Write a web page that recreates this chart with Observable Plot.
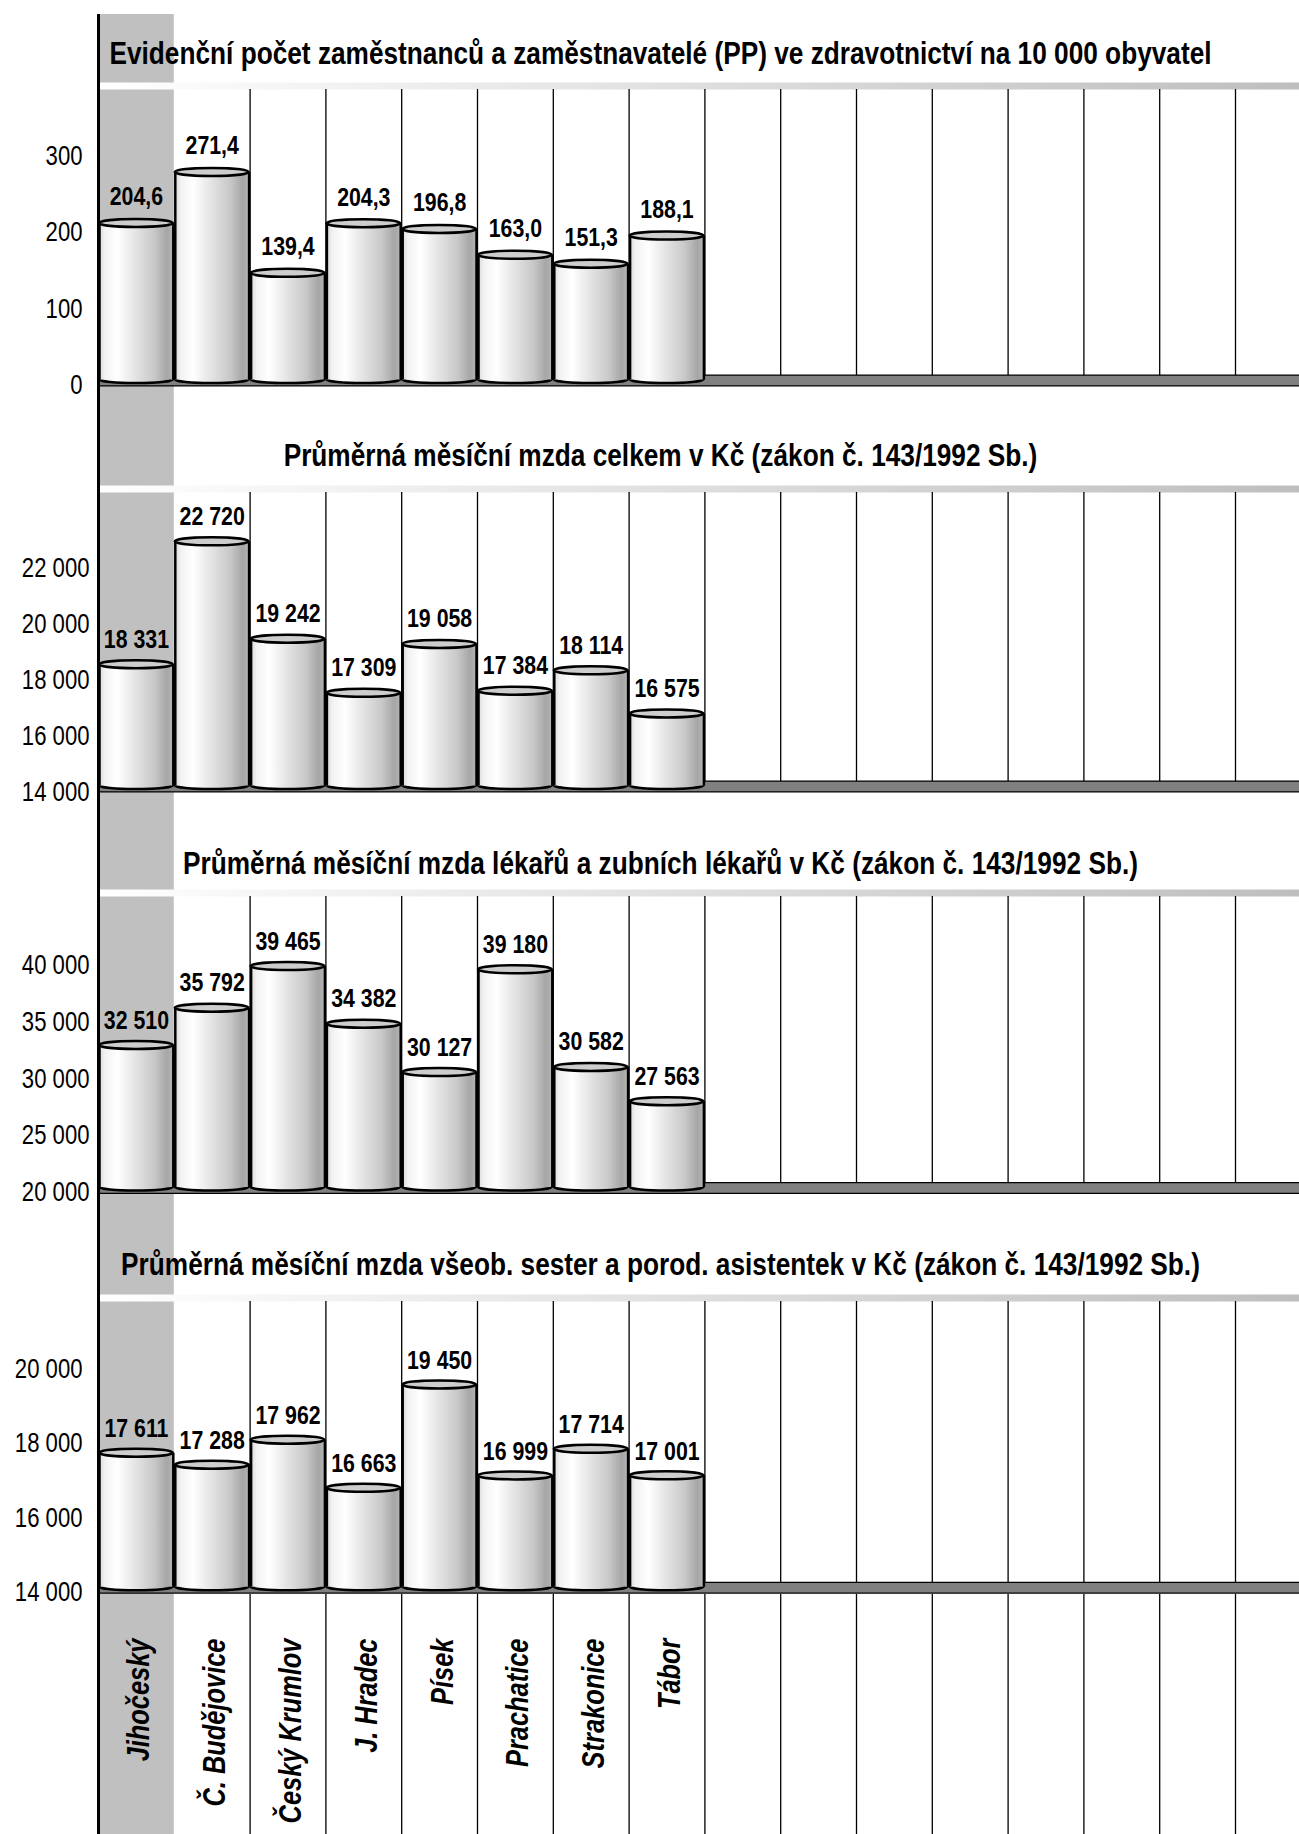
<!DOCTYPE html>
<html><head><meta charset="utf-8">
<script src="https://cdn.jsdelivr.net/npm/d3@7"></script>
<script src="https://cdn.jsdelivr.net/npm/@observablehq/plot@0.6"></script>
<style>
body{margin:0;background:#fff;}
#chart{width:1299px;}
#chart svg{display:block;}
</style>
</head><body>
<svg width="0" height="0" style="position:absolute"><defs>
<linearGradient id="barGrad" x1="0" x2="1" y1="0" y2="0">
<stop offset="0" stop-color="#d8d8d8"/><stop offset="0.08" stop-color="#f2f2f2"/><stop offset="0.25" stop-color="#ffffff"/>
<stop offset="0.5" stop-color="#e3e3e3"/><stop offset="0.75" stop-color="#c8c8c8"/><stop offset="0.92" stop-color="#a6a6a6"/><stop offset="1" stop-color="#b4b4b4"/>
</linearGradient>
<linearGradient id="stripGrad" gradientUnits="userSpaceOnUse" x1="98" x2="1299" y1="0" y2="0">
<stop offset="0" stop-color="#ffffff"/><stop offset="1" stop-color="#bebebe"/>
</linearGradient>
</defs></svg>
<div id="chart"></div>
<script>
// ---- data ----
const categories = ["Jihočeský", "Č. Budějovice", "Český Krumlov", "J. Hradec", "Písek", "Prachatice", "Strakonice", "Tábor"];
const emptyColumns = ["_9", "_10", "_11", "_12", "_13", "_14", "_15", "_16"];
const employeesPer10k = [204.6, 271.4, 139.4, 204.3, 196.8, 163.0, 151.3, 188.1];
const wageTotal = [18331, 22720, 19242, 17309, 19058, 17384, 18114, 16575];
const wageDoctors = [32510, 35792, 39465, 34382, 30127, 39180, 30582, 27563];
const wageNurses = [17611, 17288, 17962, 16663, 19450, 16999, 17714, 17001];
const titles = [
  "Evidenční počet zaměstnanců a zaměstnavatelé (PP) ve zdravotnictví na 10 000 obyvatel",
  "Průměrná měsíční mzda celkem v Kč (zákon č. 143/1992 Sb.)",
  "Průměrná měsíční mzda lékařů a zubních lékařů v Kč (zákon č. 143/1992 Sb.)",
  "Průměrná měsíční mzda všeob. sester a porod. asistentek v Kč (zákon č. 143/1992 Sb.)"
];
const ticks1 = [0, 100, 200, 300];
const ticks2 = [14000, 16000, 18000, 20000, 22000];
const ticks3 = [20000, 25000, 30000, 35000, 40000];
const ticks4 = [14000, 16000, 18000, 20000];

// ---- layout ----
const FONT = '"Liberation Sans", Arial, sans-serif';
const NARROW = 0.82; // emulate a narrow face
const W = 1299, X0 = 98, BW = 75.8;
const allCols = [...categories, ...emptyColumns];
const loc = d3.formatLocale({decimal: ",", thousands: " ", grouping: [3], currency: ["", ""]});
const fmt1 = loc.format(",.1f"), fmtInt = loc.format(",d");

const panels = [
  {values: employeesPer10k, fmt: fmt1, ticks: ticks1, title: titles[0], base: 0, baseY: 379.5, ppu: 0.765, topY: 89, segTop: 0, segBottom: 395, marginTop: 14, titleBase: 63, tickPad: 16, tickDy: 5.5, gap: 18},
  {values: wageTotal, fmt: fmtInt, ticks: ticks2, title: titles[1], base: 14000, baseY: 785.5, ppu: 0.028, topY: 492, segTop: 395, segBottom: 800, marginTop: 0, titleBase: 465, tickPad: 9, tickDy: 6.5, gap: 17},
  {values: wageDoctors, fmt: fmtInt, ticks: ticks3, title: titles[2], base: 20000, baseY: 1187, ppu: 0.01135, topY: 896, segTop: 800, segBottom: 1200, marginTop: 0, titleBase: 873, tickPad: 9, tickDy: 5, gap: 17},
  {values: wageNurses, fmt: fmtInt, ticks: ticks4, title: titles[3], base: 14000, baseY: 1586.7, ppu: 0.03712, topY: 1301, segTop: 1200, segBottom: 1594, marginTop: 0, titleBase: 1274, tickPad: 16, tickDy: 5, gap: 16}
];

const xScale = {type: "band", domain: allCols, range: [X0, X0 + 16 * BW], padding: 0, round: false, axis: null};
const common = (h, mt) => ({width: W, height: h, marginLeft: X0, marginRight: 0, marginTop: mt, marginBottom: 0,
  style: {fontFamily: FONT, background: "transparent", overflow: "visible", color: "#000"}});

const chart = document.getElementById("chart");
// squeeze glyphs horizontally around each text's own anchor point (vertical offsets untouched)
function narrowText(svg) {
  d3.select(svg).selectAll("text").each(function () {
    let t = this.getAttribute("transform") || "";
    const x = this.getAttribute("x");
    if (x != null && /^-?[\d.]+$/.test(x) && +x !== 0) {
      t += ` translate(${+x},0)`;
      this.removeAttribute("x");
    }
    this.setAttribute("transform", (t + ` scale(${NARROW},1)`).trim());
  });
}

for (const p of panels) {
  const h = p.segBottom - p.segTop;
  const top = p.base + (p.baseY - p.topY) / p.ppu;
  const data = categories.map((c, i) => ({c, v: p.values[i]}));
  const bar = {x: "c", insetLeft: 1, insetRight: 1};
  const svg = Plot.plot({
    ...common(h, p.marginTop),
    x: xScale,
    y: {type: "linear", domain: [p.base, top], range: [p.baseY - p.segTop, p.topY - p.segTop], axis: null},
    marks: [
      Plot.cell([categories[0]], {x: d => d, fill: "#c0c0c0"}),
      Plot.text([p.title], {text: d => d, frameAnchor: "top", lineAnchor: "middle", dx: 660 - (X0 + W) / 2,
        dy: p.titleBase - p.segTop - p.marginTop - 0.32 * 32, fontSize: 32, fontWeight: "bold", fill: "#000"}),
      Plot.ruleY([top], {stroke: "url(#stripGrad)", strokeWidth: 7, dy: -3.5}),
      Plot.ruleX(allCols.slice(1, 15), {x: d => d, dx: BW / 2, y1: top, y2: p.base, stroke: "#000", strokeWidth: 1.3}),
      Plot.ruleY([p.base], {stroke: "#000", strokeWidth: 12, dy: 0.5}),
      Plot.ruleY([p.base], {stroke: "#808080", strokeWidth: 9.5, dy: 0.5}),
      // cylinder bottom
      Plot.barY(data, {...bar, y1: p.base, y2: p.base, insetTop: -3.5, insetBottom: -3.5, rx: 38, ry: 3.5,
        fill: "url(#barGrad)", stroke: "#000", strokeWidth: 2.5}),
      // cylinder body
      Plot.barY(data, {...bar, y1: p.base, y2: "v", fill: "url(#barGrad)"}),
      Plot.ruleX(data, {x: "c", dx: -(BW / 2 - 1), y1: p.base, y2: "v", stroke: "#000", strokeWidth: 2.5}),
      Plot.ruleX(data, {x: "c", dx: (BW / 2 - 1), y1: p.base, y2: "v", stroke: "#000", strokeWidth: 2.5}),
      // cylinder top
      Plot.barY(data, {...bar, y1: "v", y2: "v", insetTop: -4, insetBottom: -4, rx: 38, ry: 4,
        fill: "#cdcdcd", stroke: "#000", strokeWidth: 2.5}),
      // value labels
      Plot.text(data, {x: "c", y: "v", text: d => p.fmt(d.v), lineAnchor: "middle", dy: -p.gap - 0.32 * 26,
        fontSize: 26, fontWeight: "bold", fill: "#000"}),
      // y tick labels
      Plot.text(p.ticks, {y: d => d, text: d => fmtInt(d), frameAnchor: "left", lineAnchor: "middle", dx: -p.tickPad, dy: p.tickDy,
        textAnchor: "end", fontSize: 27, fill: "#000"}),
      // axis line
      Plot.ruleX([categories[0]], {x: d => d, dx: -BW / 2, stroke: "#000", strokeWidth: 3})
    ]
  });
  chart.appendChild(svg);
  narrowText(svg);
}

// category labels
const labelSvg = Plot.plot({
  ...common(1834 - 1594, 0),
  x: xScale,
  marks: [
    Plot.cell([categories[0]], {x: d => d, fill: "#c0c0c0"}),
    Plot.ruleX(allCols.slice(1, 15), {x: d => d, dx: BW / 2, stroke: "#000", strokeWidth: 1.3}),
    Plot.text(categories, {x: d => d, text: d => d, frameAnchor: "top", lineAnchor: "middle", dx: 3, dy: 1638 - 1594, rotate: -90,
      textAnchor: "end", fontSize: 31, fontWeight: "bold", fontStyle: "italic", fill: "#000"}),
    Plot.ruleX([categories[0]], {x: d => d, dx: -BW / 2, stroke: "#000", strokeWidth: 3})
  ]
});
chart.appendChild(labelSvg);
narrowText(labelSvg);
</script>
</body></html>
